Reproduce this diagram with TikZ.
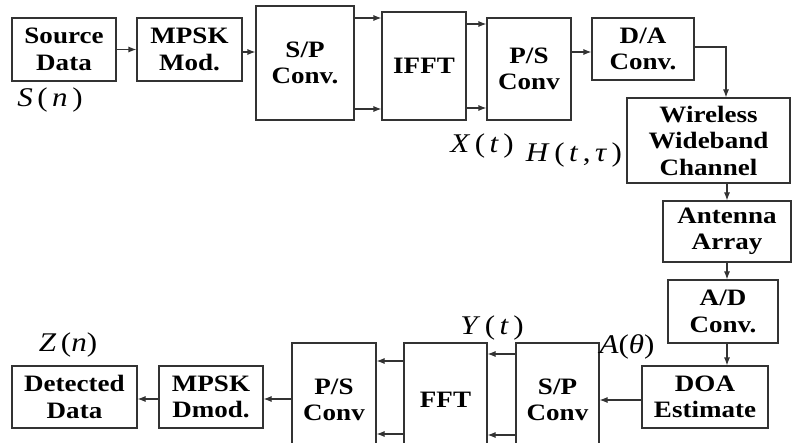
\documentclass[tikz,border=0pt]{standalone}
\usepackage{fontspec}
\setmainfont{Liberation Serif}[FakeStretch=1.15]
\usetikzlibrary{arrows.meta}
\begin{document}
\begin{tikzpicture}[x=1pt,y=-1pt,
  blk/.style={draw=black!80, line width=1.1pt, inner sep=0pt, align=center,
    font=\fontsize{23.5}{26.5}\selectfont\bfseries},
  conn/.style={draw=black!80, line width=1.1pt, -{Latex[length=8pt,width=6pt]}},
  lbl/.style={font=\fontsize{27}{30}\selectfont, inner sep=0pt}]
\clip (0,0) rectangle (792,443);

% transmitter chain
\node[blk, minimum width=104pt, minimum height=63pt] (src)  at (64,49.5)  {Source\\Data};
\node[blk, minimum width=105pt, minimum height=63pt] (mod)  at (189.5,49.5) {MPSK\\Mod.};
\node[blk, minimum width=98pt,  minimum height=114pt] (sp1) at (305,63)   {S/P\\Conv.};
\node[blk, minimum width=84pt,  minimum height=108pt] (ifft) at (424,66)  {IFFT};
\node[blk, minimum width=84pt,  minimum height=102pt] (ps1) at (529,69)   {P/S\\Conv};
\node[blk, minimum width=102pt, minimum height=62pt]  (da)  at (643,49)   {D/A\\Conv.};

% channel and receiver front end
\node[blk, minimum width=163pt, minimum height=85pt]  (wch) at (708.5,140.5) {Wireless\\Wideband\\Channel};
\node[blk, minimum width=128pt, minimum height=61pt]  (ant) at (727,231.5) {Antenna\\Array};
\node[blk, minimum width=110pt, minimum height=63pt]  (ad)  at (723,311.5) {A/D\\Conv.};
\node[blk, minimum width=126pt, minimum height=62pt]  (doa) at (705,397)   {DOA\\Estimate};

% receiver chain
\node[blk, minimum width=83pt,  minimum height=114pt] (sp2) at (557.5,400) {S/P\\Conv};
\node[blk, minimum width=83pt,  minimum height=114pt] (fft) at (445.5,400) {FFT};
\node[blk, minimum width=84pt,  minimum height=114pt] (ps2) at (334,400)   {P/S\\Conv};
\node[blk, minimum width=104pt, minimum height=62pt]  (dmod) at (211,397)  {MPSK\\Dmod.};
\node[blk, minimum width=125pt, minimum height=62pt]  (det) at (74.5,397)  {Detected\\Data};

% connectors
\draw[conn] (src) -- (mod);
\draw[conn] (mod.east |- 0,52) -- (sp1.west |- 0,52);
\draw[conn] (sp1.east |- 0,18) -- (ifft.west |- 0,18);
\draw[conn] (sp1.east |- 0,109) -- (ifft.west |- 0,109);
\draw[conn] (ifft.east |- 0,24) -- (ps1.west |- 0,24);
\draw[conn] (ifft.east |- 0,108) -- (ps1.west |- 0,108);
\draw[conn] (ps1.east |- 0,52) -- (da.west |- 0,52);
\draw[conn] (da.east |- 0,47) -| (wch.north -| 726,0);
\draw[conn] (wch.south -| 727,0) -- (ant.north -| 727,0);
\draw[conn] (ant.south -| 727,0) -- (ad.north -| 727,0);
\draw[conn] (ad.south -| 727,0) -- (doa.north -| 727,0);
\draw[conn] (doa.west |- 0,400) -- (sp2.east |- 0,400);
\draw[conn] (sp2.west |- 0,354) -- (fft.east |- 0,354);
\draw[conn] (sp2.west |- 0,435) -- (fft.east |- 0,435);
\draw[conn] (fft.west |- 0,361) -- (ps2.east |- 0,361);
\draw[conn] (fft.west |- 0,434) -- (ps2.east |- 0,434);
\draw[conn] (ps2.west |- 0,399) -- (dmod.east |- 0,399);
\draw[conn] (dmod.west |- 0,399) -- (det.east |- 0,399);

% signal labels
\node[lbl] (ls) at (50,100)  {\textit{S}\,(\,\textit{n}\,)};
\node[lbl] (lx) at (482,146) {\textit{X}\,(\,\textit{t}\,)};
\node[lbl] (lh) at (574,155) {\textit{H}\,(\,\textit{t}\,,\,\textit{τ}\,)};
\node[lbl] (ly) at (492,328) {\textit{Y}\,(\,\textit{t}\,)};
\node[lbl] (la) at (627,347) {\textit{A}(\textit{θ})};
\node[lbl] (lz) at (68,345)  {\textit{Z}\,(\textit{n})};
\end{tikzpicture}
\end{document}
